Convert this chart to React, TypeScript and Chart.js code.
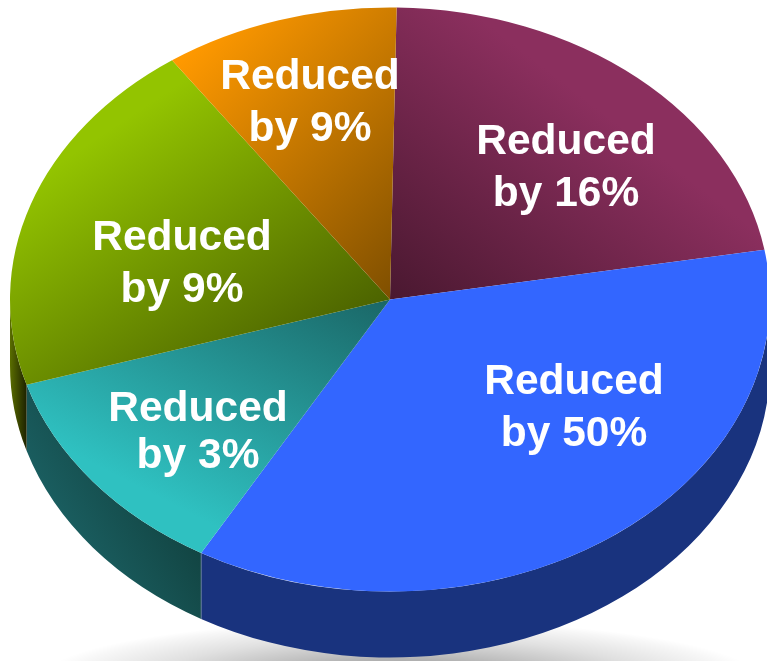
import React, { useEffect, useRef } from "react";
import { Chart, registerables } from "chart.js";

Chart.register(...registerables);

// Slices run clockwise from just past twelve o'clock.
const categories = ["Reduced by 16%", "Reduced by 50%", "Reduced by 3%", "Reduced by 9% (green)", "Reduced by 9% (orange)"];
const shares = [22, 36, 12, 20, 10];
const labelLines = [
  ["Reduced", "by 16%"],
  ["Reduced", "by 50%"],
  ["Reduced", "by 3%"],
  ["Reduced", "by 9%"],
  ["Reduced", "by 9%"],
];

const WIDTH = 767;
const HEIGHT = 661;
const RADIUS = 380;
const TILT = 292 / 380; // vertical squash of the top face
const DEPTH = 66; // height of the side wall
const START_DEG = 1;

// Top-face shading: [dark end, light end, far point in radius units relative to the pie centre]
const faceShades: [string, string, number, number][] = [
  ["#4a1830", "#8b2f5e", 0.6, -0.6],
  ["#3366ff", "#3366ff", 0.6, 0.6],
  ["#1a6666", "#2fc1c1", -0.5, 0.75],
  ["#4c6300", "#93c400", -0.6, -0.7],
  ["#7f4f00", "#ff9900", -0.75, -0.56],
];

// Label anchors: centre x, first baseline y and line spacing on the canvas
const labelAnchors: [number, number, number][] = [
  [566, 154, 52],
  [574, 394, 52],
  [198, 421, 47],
  [182, 250, 52],
  [310, 89, 52],
];

// Ground shadow falloff: [radial position, opacity]
const shadowStops: [number, number][] = [
  [0, 0.45],
  [0.33, 0.31],
  [0.43, 0.25],
  [0.69, 0.12],
  [0.93, 0.03],
  [1, 0],
];

function wallFill(ctx: CanvasRenderingContext2D, index: number) {
  if (index === 1) return "#19337e";
  if (index === 2) {
    const g = ctx.createLinearGradient(190, 530, 100, 585);
    g.addColorStop(0, "#124442");
    g.addColorStop(1, "#1a5e60");
    return g;
  }
  const g = ctx.createLinearGradient(10, 0, 27, 0);
  g.addColorStop(0, "#5a6d00");
  g.addColorStop(1, "#1c2000");
  return g;
}

const tiltedPie = {
  id: "tiltedPie",
  beforeDatasetsDraw(chart: any) {
    const { ctx } = chart;
    const arcs = chart.getDatasetMeta(0).data;
    const cx = arcs[0].x;
    const cy = arcs[0].y;
    const ry = RADIUS * TILT;

    // Soft ground shadow under the pie
    ctx.save();
    ctx.translate(400, 680);
    ctx.scale(1, 60 / 360);
    const shadow = ctx.createRadialGradient(0, 0, 0, 0, 0, 360);
    shadowStops.forEach(([p, a]) => shadow.addColorStop(p, `rgba(0,0,0,${a})`));
    ctx.fillStyle = shadow;
    ctx.fillRect(-400, -400, 800, 800);
    ctx.restore();

    // Side walls: only the near half of the rim is visible
    arcs.forEach((arc: any, i: number) => {
      for (const k of [-1, 0, 1]) {
        const lo = Math.max(arc.startAngle + k * 2 * Math.PI, 0);
        const hi = Math.min(arc.endAngle + k * 2 * Math.PI, Math.PI);
        if (hi <= lo) continue;
        ctx.beginPath();
        ctx.ellipse(cx, cy, RADIUS, ry, 0, lo, hi);
        ctx.ellipse(cx, cy + DEPTH, RADIUS, ry, 0, hi, lo, true);
        ctx.closePath();
        ctx.fillStyle = wallFill(ctx, i);
        ctx.fill();
      }
    });

    // Faint seam where the blue wall meets the teal wall
    const seam = arcs[2].startAngle;
    const sx = cx + RADIUS * Math.cos(seam);
    const sy = cy + ry * Math.sin(seam);
    ctx.beginPath();
    ctx.moveTo(sx, sy);
    ctx.lineTo(sx, sy + DEPTH);
    ctx.strokeStyle = "rgba(140,160,180,0.55)";
    ctx.lineWidth = 1;
    ctx.stroke();

    // Squash the flat arcs into the elliptical top face
    ctx.save();
    ctx.translate(0, cy);
    ctx.scale(1, TILT);
    ctx.translate(0, -cy);
  },
  afterDatasetsDraw(chart: any) {
    const { ctx } = chart;
    ctx.restore();
    ctx.save();
    ctx.fillStyle = "#ffffff";
    ctx.font = 'bold 42.5px "Liberation Sans", Arial, sans-serif';
    ctx.textAlign = "center";
    ctx.textBaseline = "alphabetic";
    labelLines.forEach((lines, i) => {
      const [x, y, step] = labelAnchors[i];
      lines.forEach((line, j) => ctx.fillText(line, x, y + j * step));
    });
    ctx.restore();
  },
};

function faceColor(context: any) {
  const { chart, dataIndex } = context;
  const area = chart.chartArea;
  if (!area) return faceShades[dataIndex][1];
  const [dark, light, ux, uy] = faceShades[dataIndex];
  const cx = (area.left + area.right) / 2;
  const cy = (area.top + area.bottom) / 2;
  const g = chart.ctx.createLinearGradient(cx, cy, cx + ux * RADIUS, cy + uy * RADIUS);
  g.addColorStop(0, dark);
  g.addColorStop(1, light);
  return g;
}

export default function App() {
  const ref = useRef<HTMLCanvasElement>(null);
  useEffect(() => {
    const chart = new Chart(ref.current as HTMLCanvasElement, {
      type: "pie",
      data: {
        labels: categories,
        datasets: [{ data: shares, backgroundColor: faceColor, borderWidth: 0, clip: false } as any],
      },
      options: {
        responsive: false,
        animation: false,
        events: [],
        rotation: START_DEG,
        radius: RADIUS,
        layout: { padding: { left: 13, right: 0, top: 8, bottom: 70 } },
        plugins: { legend: { display: false }, tooltip: { enabled: false } },
      } as any,
      plugins: [tiltedPie],
    });
    return () => chart.destroy();
  }, []);
  return (
    <canvas
      ref={ref}
      width={WIDTH}
      height={HEIGHT}
      style={{ position: "absolute", left: 0, top: 0, display: "block" }}
    />
  );
}
